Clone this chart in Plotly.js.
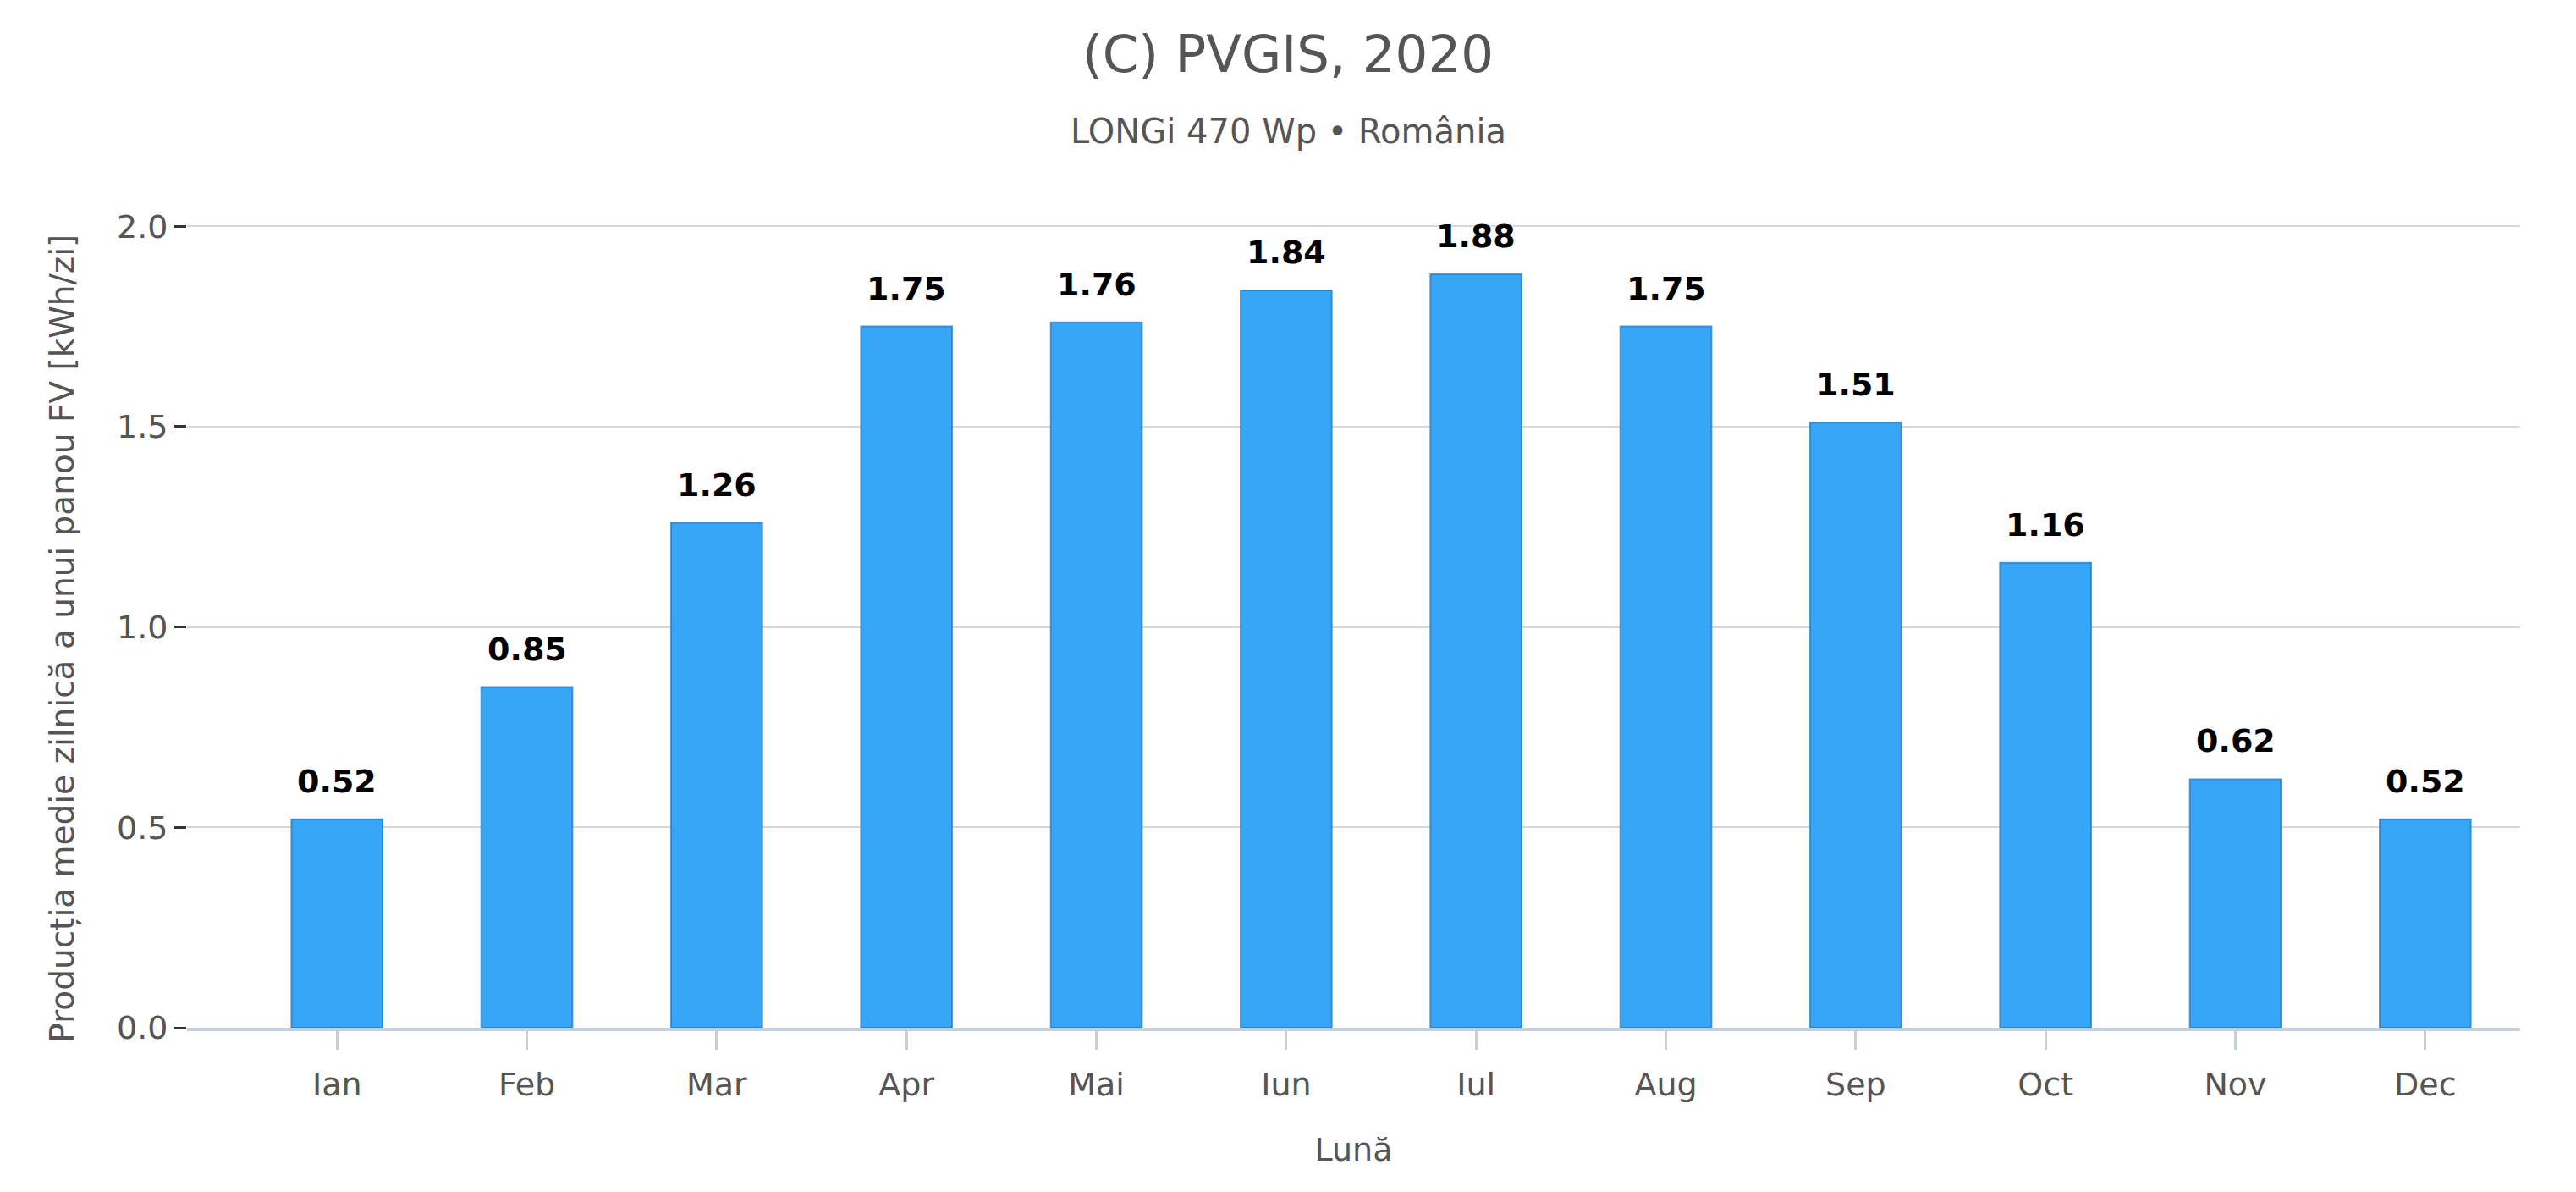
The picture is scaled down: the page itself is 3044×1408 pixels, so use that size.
<!DOCTYPE html>
<html>
<head>
<meta charset="utf-8">
<script src="https://cdn.plot.ly/plotly-3.0.1.min.js"></script>
<style>
  html, body { margin: 0; padding: 0; background: #ffffff; }
  #chart { width: 3044px; height: 1408px; }
</style>
</head>
<body>
<div id="chart"></div>
<script>
var months = ['Ian', 'Feb', 'Mar', 'Apr', 'Mai', 'Iun', 'Iul', 'Aug', 'Sep', 'Oct', 'Nov', 'Dec'];
var dailyKwh = [0.52, 0.85, 1.26, 1.75, 1.76, 1.84, 1.88, 1.75, 1.51, 1.16, 0.62, 0.52];
var yTicks = [0, 0.5, 1.0, 1.5, 2.0];
var yTickText = ['0.0', '0.5', '1.0', '1.5', '2.0'];

var fontFamily = 'DejaVu Sans, Verdana, sans-serif';
var textGrey = '#555555';

var trace = {
  type: 'bar',
  x: months,
  y: dailyKwh,
  width: 0.48,
  marker: {
    color: '#38a6f6',
    line: { color: 'rgba(34, 122, 196, 0.75)', width: 2 }
  },
  hoverinfo: 'x+y'
};

// value labels sit a bit above each bar top
var labels = months.map(function (m, i) {
  return {
    x: m,
    y: dailyKwh[i],
    xref: 'x',
    yref: 'y',
    text: dailyKwh[i].toFixed(2),
    showarrow: false,
    yanchor: 'bottom',
    yshift: 21,
    font: {
      family: fontFamily,
      size: 38,
      color: '#000000',
      weight: 700,
      shadow: '0px 0px 6px #ffffff'
    }
  };
});

// subtitle and y title placed by hand so they line up with the original
labels.push({
  text: 'LONGi 470 Wp • România',
  xref: 'paper',
  yref: 'paper',
  x: 0.472,
  y: 1.102,
  xanchor: 'center',
  yanchor: 'middle',
  showarrow: false,
  font: { family: fontFamily, size: 40, color: textGrey }
});
labels.push({
  text: 'Producția medie zilnică a unui panou FV [kWh/zi]',
  xref: 'paper',
  yref: 'paper',
  x: -0.0533,
  y: 0.478,
  xanchor: 'center',
  yanchor: 'middle',
  textangle: -90,
  showarrow: false,
  font: { family: fontFamily, size: 39, color: textGrey }
});

var layout = {
  width: 3044,
  height: 1408,
  margin: { l: 221, r: 66, t: 253, b: 194, pad: 0 },
  paper_bgcolor: '#ffffff',
  plot_bgcolor: '#ffffff',
  showlegend: false,
  font: { family: fontFamily, size: 38, color: textGrey },
  title: {
    text: '(C) PVGIS, 2020',
    font: { family: fontFamily, size: 61, color: textGrey },
    x: 0.5,
    xref: 'container',
    xanchor: 'center',
    y: 0.970,
    yref: 'container',
    yanchor: 'top'
  },
  xaxis: {
    type: 'category',
    range: [-0.79, 11.5],
    showgrid: false,
    showline: true,
    linecolor: '#c5cedc',
    linewidth: 4,
    ticks: 'outside',
    ticklen: 22,
    tickwidth: 3,
    tickcolor: '#c8ced8',
    ticklabelstandoff: 8,
    tickfont: { family: fontFamily, size: 38, color: textGrey },
    title: {
      text: 'Lună',
      font: { family: fontFamily, size: 38, color: textGrey },
      standoff: 44
    }
  },
  yaxis: {
    range: [0, 2.03],
    tickvals: yTicks,
    ticktext: yTickText,
    showgrid: true,
    gridcolor: '#d6d6da',
    gridwidth: 2,
    zeroline: false,
    showline: false,
    ticks: 'outside',
    ticklen: 14,
    tickwidth: 3,
    tickcolor: '#333333',
    tickfont: { family: fontFamily, size: 38, color: textGrey }
  },
  annotations: labels
};

var config = { displayModeBar: false, responsive: false };

Plotly.newPlot('chart', [trace], layout, config);
</script>
</body>
</html>
